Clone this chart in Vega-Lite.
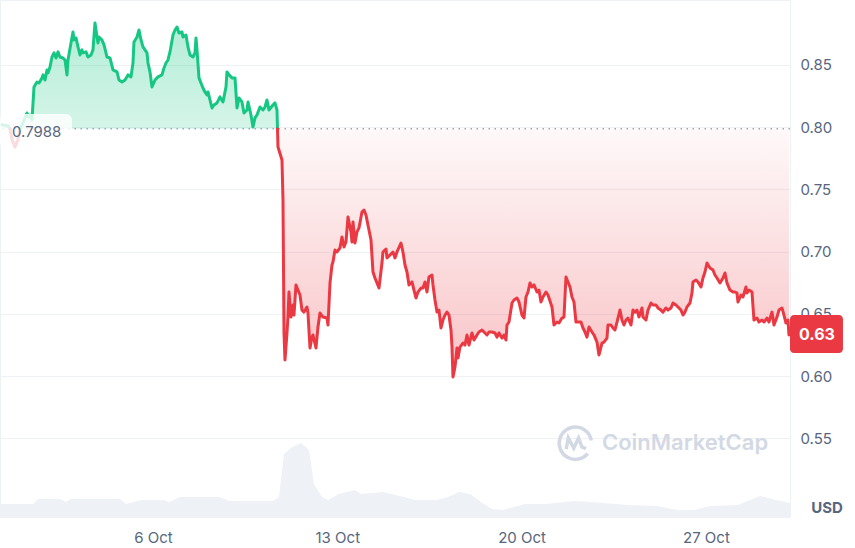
{
  "$schema": "https://vega.github.io/schema/vega-lite/v6.json",
  "width": 790,
  "height": 517,
  "autosize": {"type": "none"},
  "padding": {"left": 0, "top": 0, "right": 65, "bottom": 31},
  "background": "#ffffff",
  "config": {
    "view": {"stroke": "#eff2f5", "strokeWidth": 1},
    "font": "Inter",
    "axis": {"title": null, "labelFont": "Inter", "labelFontSize": 15, "labelColor": "#58667e", "domain": false, "ticks": false}
  },
  "datasets": {
    "price": [
      {"t": "2024-09-30T06:23", "p": 0.802, "s": "a"},
      {"t": "2024-09-30T11:51", "p": 0.801, "s": "a"},
      {"t": "2024-09-30T13:40", "p": 0.7988, "s": "a"},
      {"t": "2024-09-30T13:40", "p": 0.7988, "s": "b"},
      {"t": "2024-09-30T15:30", "p": 0.79, "s": "b"},
      {"t": "2024-09-30T18:14", "p": 0.784, "s": "b"},
      {"t": "2024-09-30T20:58", "p": 0.79, "s": "b"},
      {"t": "2024-09-30T22:47", "p": 0.7988, "s": "b"},
      {"t": "2024-09-30T22:47", "p": 0.7988, "s": "c"},
      {"t": "2024-10-01T00:37", "p": 0.8018, "s": "c"},
      {"t": "2024-10-01T05:10", "p": 0.8114, "s": "c"},
      {"t": "2024-10-01T06:05", "p": 0.8082, "s": "c"},
      {"t": "2024-10-01T07:55", "p": 0.8098, "s": "c"},
      {"t": "2024-10-01T09:44", "p": 0.8058, "s": "c"},
      {"t": "2024-10-01T11:33", "p": 0.8323, "s": "c"},
      {"t": "2024-10-01T14:17", "p": 0.8363, "s": "c"},
      {"t": "2024-10-01T16:07", "p": 0.8355, "s": "c"},
      {"t": "2024-10-01T18:50", "p": 0.8396, "s": "c"},
      {"t": "2024-10-01T19:45", "p": 0.842, "s": "c"},
      {"t": "2024-10-01T21:35", "p": 0.8379, "s": "c"},
      {"t": "2024-10-01T23:24", "p": 0.846, "s": "c"},
      {"t": "2024-10-02T00:19", "p": 0.8436, "s": "c"},
      {"t": "2024-10-02T02:08", "p": 0.8484, "s": "c"},
      {"t": "2024-10-02T03:58", "p": 0.8564, "s": "c"},
      {"t": "2024-10-02T05:47", "p": 0.8597, "s": "c"},
      {"t": "2024-10-02T07:36", "p": 0.8556, "s": "c"},
      {"t": "2024-10-02T09:26", "p": 0.8605, "s": "c"},
      {"t": "2024-10-02T11:15", "p": 0.8564, "s": "c"},
      {"t": "2024-10-02T13:59", "p": 0.8556, "s": "c"},
      {"t": "2024-10-02T15:49", "p": 0.854, "s": "c"},
      {"t": "2024-10-02T17:38", "p": 0.842, "s": "c"},
      {"t": "2024-10-02T18:32", "p": 0.854, "s": "c"},
      {"t": "2024-10-02T21:17", "p": 0.8677, "s": "c"},
      {"t": "2024-10-02T23:06", "p": 0.8765, "s": "c"},
      {"t": "2024-10-03T00:01", "p": 0.8701, "s": "c"},
      {"t": "2024-10-03T01:50", "p": 0.8717, "s": "c"},
      {"t": "2024-10-03T03:40", "p": 0.8645, "s": "c"},
      {"t": "2024-10-03T05:29", "p": 0.858, "s": "c"},
      {"t": "2024-10-03T07:18", "p": 0.8621, "s": "c"},
      {"t": "2024-10-03T08:13", "p": 0.8597, "s": "c"},
      {"t": "2024-10-03T10:57", "p": 0.8605, "s": "c"},
      {"t": "2024-10-03T12:46", "p": 0.8564, "s": "c"},
      {"t": "2024-10-03T15:31", "p": 0.858, "s": "c"},
      {"t": "2024-10-03T17:20", "p": 0.8621, "s": "c"},
      {"t": "2024-10-03T19:09", "p": 0.8838, "s": "c"},
      {"t": "2024-10-03T20:59", "p": 0.8725, "s": "c"},
      {"t": "2024-10-03T21:53", "p": 0.8677, "s": "c"},
      {"t": "2024-10-03T22:48", "p": 0.8725, "s": "c"},
      {"t": "2024-10-04T01:32", "p": 0.8701, "s": "c"},
      {"t": "2024-10-04T03:22", "p": 0.8661, "s": "c"},
      {"t": "2024-10-04T06:05", "p": 0.8564, "s": "c"},
      {"t": "2024-10-04T08:50", "p": 0.8556, "s": "c"},
      {"t": "2024-10-04T11:34", "p": 0.846, "s": "c"},
      {"t": "2024-10-04T15:13", "p": 0.8444, "s": "c"},
      {"t": "2024-10-04T17:02", "p": 0.8379, "s": "c"},
      {"t": "2024-10-04T19:46", "p": 0.8363, "s": "c"},
      {"t": "2024-10-04T22:30", "p": 0.8379, "s": "c"},
      {"t": "2024-10-05T01:14", "p": 0.842, "s": "c"},
      {"t": "2024-10-05T03:58", "p": 0.8404, "s": "c"},
      {"t": "2024-10-05T05:47", "p": 0.8516, "s": "c"},
      {"t": "2024-10-05T06:42", "p": 0.8685, "s": "c"},
      {"t": "2024-10-05T09:26", "p": 0.8725, "s": "c"},
      {"t": "2024-10-05T11:16", "p": 0.8781, "s": "c"},
      {"t": "2024-10-05T13:05", "p": 0.8701, "s": "c"},
      {"t": "2024-10-05T14:54", "p": 0.8645, "s": "c"},
      {"t": "2024-10-05T18:33", "p": 0.8597, "s": "c"},
      {"t": "2024-10-05T19:28", "p": 0.8516, "s": "c"},
      {"t": "2024-10-05T21:17", "p": 0.8444, "s": "c"},
      {"t": "2024-10-05T23:07", "p": 0.8323, "s": "c"},
      {"t": "2024-10-06T01:50", "p": 0.8379, "s": "c"},
      {"t": "2024-10-06T04:35", "p": 0.8404, "s": "c"},
      {"t": "2024-10-06T08:13", "p": 0.842, "s": "c"},
      {"t": "2024-10-06T10:03", "p": 0.8476, "s": "c"},
      {"t": "2024-10-06T11:52", "p": 0.8516, "s": "c"},
      {"t": "2024-10-06T13:41", "p": 0.854, "s": "c"},
      {"t": "2024-10-06T15:31", "p": 0.8605, "s": "c"},
      {"t": "2024-10-06T18:15", "p": 0.8741, "s": "c"},
      {"t": "2024-10-06T20:04", "p": 0.8781, "s": "c"},
      {"t": "2024-10-06T21:54", "p": 0.8805, "s": "c"},
      {"t": "2024-10-06T23:43", "p": 0.8757, "s": "c"},
      {"t": "2024-10-07T02:27", "p": 0.8765, "s": "c"},
      {"t": "2024-10-07T03:22", "p": 0.8725, "s": "c"},
      {"t": "2024-10-07T06:06", "p": 0.8741, "s": "c"},
      {"t": "2024-10-07T07:55", "p": 0.8645, "s": "c"},
      {"t": "2024-10-07T09:45", "p": 0.858, "s": "c"},
      {"t": "2024-10-07T12:29", "p": 0.8564, "s": "c"},
      {"t": "2024-10-07T14:18", "p": 0.8597, "s": "c"},
      {"t": "2024-10-07T15:13", "p": 0.8717, "s": "c"},
      {"t": "2024-10-07T16:08", "p": 0.8621, "s": "c"},
      {"t": "2024-10-07T17:57", "p": 0.8396, "s": "c"},
      {"t": "2024-10-07T19:46", "p": 0.8355, "s": "c"},
      {"t": "2024-10-07T21:35", "p": 0.8315, "s": "c"},
      {"t": "2024-10-07T23:25", "p": 0.8283, "s": "c"},
      {"t": "2024-10-08T01:14", "p": 0.8259, "s": "c"},
      {"t": "2024-10-08T02:09", "p": 0.8283, "s": "c"},
      {"t": "2024-10-08T03:59", "p": 0.8219, "s": "c"},
      {"t": "2024-10-08T05:48", "p": 0.8154, "s": "c"},
      {"t": "2024-10-08T07:37", "p": 0.8178, "s": "c"},
      {"t": "2024-10-08T10:22", "p": 0.8195, "s": "c"},
      {"t": "2024-10-08T13:05", "p": 0.8243, "s": "c"},
      {"t": "2024-10-08T15:49", "p": 0.8203, "s": "c"},
      {"t": "2024-10-08T18:34", "p": 0.8323, "s": "c"},
      {"t": "2024-10-08T19:28", "p": 0.8444, "s": "c"},
      {"t": "2024-10-08T21:17", "p": 0.842, "s": "c"},
      {"t": "2024-10-09T00:02", "p": 0.8396, "s": "c"},
      {"t": "2024-10-09T02:46", "p": 0.8396, "s": "c"},
      {"t": "2024-10-09T04:35", "p": 0.8154, "s": "c"},
      {"t": "2024-10-09T06:25", "p": 0.8235, "s": "c"},
      {"t": "2024-10-09T09:08", "p": 0.8203, "s": "c"},
      {"t": "2024-10-09T10:58", "p": 0.8114, "s": "c"},
      {"t": "2024-10-09T13:42", "p": 0.8138, "s": "c"},
      {"t": "2024-10-09T14:37", "p": 0.8203, "s": "c"},
      {"t": "2024-10-09T17:21", "p": 0.8098, "s": "c"},
      {"t": "2024-10-09T19:10", "p": 0.8002, "s": "c"},
      {"t": "2024-10-09T20:59", "p": 0.8074, "s": "c"},
      {"t": "2024-10-09T22:49", "p": 0.8098, "s": "c"},
      {"t": "2024-10-10T01:33", "p": 0.8162, "s": "c"},
      {"t": "2024-10-10T04:17", "p": 0.8138, "s": "c"},
      {"t": "2024-10-10T06:07", "p": 0.8162, "s": "c"},
      {"t": "2024-10-10T07:56", "p": 0.8219, "s": "c"},
      {"t": "2024-10-10T09:45", "p": 0.8138, "s": "c"},
      {"t": "2024-10-10T13:24", "p": 0.8178, "s": "c"},
      {"t": "2024-10-10T15:13", "p": 0.8195, "s": "c"},
      {"t": "2024-10-10T17:03", "p": 0.8138, "s": "c"},
      {"t": "2024-10-10T17:30", "p": 0.7988, "s": "c"},
      {"t": "2024-10-10T17:30", "p": 0.7988, "s": "d"},
      {"t": "2024-10-10T17:58", "p": 0.7841, "s": "d"},
      {"t": "2024-10-10T21:36", "p": 0.7736, "s": "d"},
      {"t": "2024-10-10T22:31", "p": 0.7415, "s": "d"},
      {"t": "2024-10-10T23:26", "p": 0.6346, "s": "d"},
      {"t": "2024-10-11T00:20", "p": 0.6129, "s": "d"},
      {"t": "2024-10-11T02:10", "p": 0.6346, "s": "d"},
      {"t": "2024-10-11T03:04", "p": 0.6474, "s": "d"},
      {"t": "2024-10-11T03:59", "p": 0.6675, "s": "d"},
      {"t": "2024-10-11T05:49", "p": 0.6474, "s": "d"},
      {"t": "2024-10-11T07:38", "p": 0.6571, "s": "d"},
      {"t": "2024-10-11T08:32", "p": 0.649, "s": "d"},
      {"t": "2024-10-11T10:22", "p": 0.6732, "s": "d"},
      {"t": "2024-10-11T12:11", "p": 0.6691, "s": "d"},
      {"t": "2024-10-11T14:01", "p": 0.6651, "s": "d"},
      {"t": "2024-10-11T15:50", "p": 0.653, "s": "d"},
      {"t": "2024-10-11T17:40", "p": 0.6514, "s": "d"},
      {"t": "2024-10-11T20:23", "p": 0.6555, "s": "d"},
      {"t": "2024-10-11T21:18", "p": 0.6506, "s": "d"},
      {"t": "2024-10-11T23:08", "p": 0.6225, "s": "d"},
      {"t": "2024-10-12T00:57", "p": 0.6313, "s": "d"},
      {"t": "2024-10-12T01:52", "p": 0.633, "s": "d"},
      {"t": "2024-10-12T04:35", "p": 0.6225, "s": "d"},
      {"t": "2024-10-12T06:25", "p": 0.6394, "s": "d"},
      {"t": "2024-10-12T08:14", "p": 0.6506, "s": "d"},
      {"t": "2024-10-12T10:58", "p": 0.6474, "s": "d"},
      {"t": "2024-10-12T14:37", "p": 0.6466, "s": "d"},
      {"t": "2024-10-12T15:32", "p": 0.641, "s": "d"},
      {"t": "2024-10-12T17:22", "p": 0.6748, "s": "d"},
      {"t": "2024-10-12T19:11", "p": 0.6892, "s": "d"},
      {"t": "2024-10-12T20:05", "p": 0.6917, "s": "d"},
      {"t": "2024-10-12T21:55", "p": 0.7013, "s": "d"},
      {"t": "2024-10-12T23:44", "p": 0.6997, "s": "d"},
      {"t": "2024-10-13T02:28", "p": 0.7029, "s": "d"},
      {"t": "2024-10-13T04:17", "p": 0.7117, "s": "d"},
      {"t": "2024-10-13T06:07", "p": 0.7037, "s": "d"},
      {"t": "2024-10-13T07:56", "p": 0.7077, "s": "d"},
      {"t": "2024-10-13T09:46", "p": 0.7278, "s": "d"},
      {"t": "2024-10-13T12:30", "p": 0.7158, "s": "d"},
      {"t": "2024-10-13T13:25", "p": 0.7077, "s": "d"},
      {"t": "2024-10-13T14:19", "p": 0.7238, "s": "d"},
      {"t": "2024-10-13T16:08", "p": 0.7069, "s": "d"},
      {"t": "2024-10-13T17:58", "p": 0.7158, "s": "d"},
      {"t": "2024-10-13T19:47", "p": 0.719, "s": "d"},
      {"t": "2024-10-13T22:31", "p": 0.7318, "s": "d"},
      {"t": "2024-10-14T00:21", "p": 0.7334, "s": "d"},
      {"t": "2024-10-14T02:10", "p": 0.7294, "s": "d"},
      {"t": "2024-10-14T03:59", "p": 0.7214, "s": "d"},
      {"t": "2024-10-14T06:44", "p": 0.7093, "s": "d"},
      {"t": "2024-10-14T08:33", "p": 0.6836, "s": "d"},
      {"t": "2024-10-14T10:22", "p": 0.6788, "s": "d"},
      {"t": "2024-10-14T12:12", "p": 0.6748, "s": "d"},
      {"t": "2024-10-14T14:01", "p": 0.6707, "s": "d"},
      {"t": "2024-10-14T16:45", "p": 0.6908, "s": "d"},
      {"t": "2024-10-14T17:40", "p": 0.6997, "s": "d"},
      {"t": "2024-10-14T20:24", "p": 0.7021, "s": "d"},
      {"t": "2024-10-14T21:19", "p": 0.6949, "s": "d"},
      {"t": "2024-10-15T00:03", "p": 0.6973, "s": "d"},
      {"t": "2024-10-15T02:47", "p": 0.6997, "s": "d"},
      {"t": "2024-10-15T04:36", "p": 0.6949, "s": "d"},
      {"t": "2024-10-15T06:26", "p": 0.6997, "s": "d"},
      {"t": "2024-10-15T10:04", "p": 0.7069, "s": "d"},
      {"t": "2024-10-15T11:53", "p": 0.6997, "s": "d"},
      {"t": "2024-10-15T13:43", "p": 0.6892, "s": "d"},
      {"t": "2024-10-15T15:32", "p": 0.6836, "s": "d"},
      {"t": "2024-10-15T17:22", "p": 0.6732, "s": "d"},
      {"t": "2024-10-15T20:06", "p": 0.6756, "s": "d"},
      {"t": "2024-10-15T21:55", "p": 0.6691, "s": "d"},
      {"t": "2024-10-15T23:44", "p": 0.6627, "s": "d"},
      {"t": "2024-10-16T01:34", "p": 0.6675, "s": "d"},
      {"t": "2024-10-16T04:18", "p": 0.6707, "s": "d"},
      {"t": "2024-10-16T06:07", "p": 0.6707, "s": "d"},
      {"t": "2024-10-16T07:57", "p": 0.6756, "s": "d"},
      {"t": "2024-10-16T09:46", "p": 0.6675, "s": "d"},
      {"t": "2024-10-16T11:35", "p": 0.6796, "s": "d"},
      {"t": "2024-10-16T14:20", "p": 0.6812, "s": "d"},
      {"t": "2024-10-16T15:14", "p": 0.6732, "s": "d"},
      {"t": "2024-10-16T17:04", "p": 0.6611, "s": "d"},
      {"t": "2024-10-16T18:53", "p": 0.6514, "s": "d"},
      {"t": "2024-10-16T20:43", "p": 0.653, "s": "d"},
      {"t": "2024-10-16T22:32", "p": 0.6386, "s": "d"},
      {"t": "2024-10-17T00:21", "p": 0.645, "s": "d"},
      {"t": "2024-10-17T02:11", "p": 0.649, "s": "d"},
      {"t": "2024-10-17T04:00", "p": 0.6514, "s": "d"},
      {"t": "2024-10-17T05:49", "p": 0.649, "s": "d"},
      {"t": "2024-10-17T07:39", "p": 0.637, "s": "d"},
      {"t": "2024-10-17T08:34", "p": 0.6233, "s": "d"},
      {"t": "2024-10-17T09:28", "p": 0.5992, "s": "d"},
      {"t": "2024-10-17T11:17", "p": 0.6072, "s": "d"},
      {"t": "2024-10-17T13:07", "p": 0.6225, "s": "d"},
      {"t": "2024-10-17T14:02", "p": 0.6145, "s": "d"},
      {"t": "2024-10-17T15:51", "p": 0.6233, "s": "d"},
      {"t": "2024-10-17T18:35", "p": 0.6265, "s": "d"},
      {"t": "2024-10-17T20:25", "p": 0.6249, "s": "d"},
      {"t": "2024-10-17T22:14", "p": 0.633, "s": "d"},
      {"t": "2024-10-18T00:03", "p": 0.6249, "s": "d"},
      {"t": "2024-10-18T02:47", "p": 0.6346, "s": "d"},
      {"t": "2024-10-18T04:37", "p": 0.6289, "s": "d"},
      {"t": "2024-10-18T07:21", "p": 0.633, "s": "d"},
      {"t": "2024-10-18T09:10", "p": 0.6354, "s": "d"},
      {"t": "2024-10-18T11:54", "p": 0.637, "s": "d"},
      {"t": "2024-10-18T13:44", "p": 0.6354, "s": "d"},
      {"t": "2024-10-18T16:28", "p": 0.633, "s": "d"},
      {"t": "2024-10-18T18:17", "p": 0.6354, "s": "d"},
      {"t": "2024-10-18T21:01", "p": 0.6354, "s": "d"},
      {"t": "2024-10-18T23:45", "p": 0.6346, "s": "d"},
      {"t": "2024-10-19T01:35", "p": 0.6313, "s": "d"},
      {"t": "2024-10-19T03:24", "p": 0.6346, "s": "d"},
      {"t": "2024-10-19T06:08", "p": 0.6305, "s": "d"},
      {"t": "2024-10-19T07:58", "p": 0.633, "s": "d"},
      {"t": "2024-10-19T09:47", "p": 0.6289, "s": "d"},
      {"t": "2024-10-19T10:41", "p": 0.641, "s": "d"},
      {"t": "2024-10-19T12:31", "p": 0.6434, "s": "d"},
      {"t": "2024-10-19T15:15", "p": 0.6587, "s": "d"},
      {"t": "2024-10-19T17:04", "p": 0.6611, "s": "d"},
      {"t": "2024-10-19T19:49", "p": 0.6627, "s": "d"},
      {"t": "2024-10-19T21:38", "p": 0.6595, "s": "d"},
      {"t": "2024-10-20T00:22", "p": 0.649, "s": "d"},
      {"t": "2024-10-20T02:11", "p": 0.6466, "s": "d"},
      {"t": "2024-10-20T04:01", "p": 0.6635, "s": "d"},
      {"t": "2024-10-20T05:50", "p": 0.6675, "s": "d"},
      {"t": "2024-10-20T07:40", "p": 0.6748, "s": "d"},
      {"t": "2024-10-20T09:29", "p": 0.6715, "s": "d"},
      {"t": "2024-10-20T11:18", "p": 0.6732, "s": "d"},
      {"t": "2024-10-20T14:02", "p": 0.6675, "s": "d"},
      {"t": "2024-10-20T15:52", "p": 0.6691, "s": "d"},
      {"t": "2024-10-20T17:41", "p": 0.6595, "s": "d"},
      {"t": "2024-10-20T19:30", "p": 0.6635, "s": "d"},
      {"t": "2024-10-20T22:14", "p": 0.6675, "s": "d"},
      {"t": "2024-10-21T00:04", "p": 0.6651, "s": "d"},
      {"t": "2024-10-21T03:43", "p": 0.6555, "s": "d"},
      {"t": "2024-10-21T05:32", "p": 0.641, "s": "d"},
      {"t": "2024-10-21T08:16", "p": 0.6434, "s": "d"},
      {"t": "2024-10-21T10:05", "p": 0.6426, "s": "d"},
      {"t": "2024-10-21T12:49", "p": 0.6466, "s": "d"},
      {"t": "2024-10-21T14:39", "p": 0.6474, "s": "d"},
      {"t": "2024-10-21T16:28", "p": 0.6796, "s": "d"},
      {"t": "2024-10-21T18:17", "p": 0.6756, "s": "d"},
      {"t": "2024-10-21T20:07", "p": 0.6715, "s": "d"},
      {"t": "2024-10-21T21:56", "p": 0.6635, "s": "d"},
      {"t": "2024-10-21T23:46", "p": 0.6595, "s": "d"},
      {"t": "2024-10-22T01:35", "p": 0.6434, "s": "d"},
      {"t": "2024-10-22T03:25", "p": 0.6434, "s": "d"},
      {"t": "2024-10-22T06:08", "p": 0.6434, "s": "d"},
      {"t": "2024-10-22T07:58", "p": 0.6386, "s": "d"},
      {"t": "2024-10-22T09:47", "p": 0.6354, "s": "d"},
      {"t": "2024-10-22T11:37", "p": 0.6313, "s": "d"},
      {"t": "2024-10-22T13:26", "p": 0.6394, "s": "d"},
      {"t": "2024-10-22T16:10", "p": 0.6354, "s": "d"},
      {"t": "2024-10-22T17:59", "p": 0.633, "s": "d"},
      {"t": "2024-10-22T20:44", "p": 0.6273, "s": "d"},
      {"t": "2024-10-22T22:33", "p": 0.6169, "s": "d"},
      {"t": "2024-10-23T01:17", "p": 0.6265, "s": "d"},
      {"t": "2024-10-23T03:07", "p": 0.6273, "s": "d"},
      {"t": "2024-10-23T05:50", "p": 0.6305, "s": "d"},
      {"t": "2024-10-23T06:45", "p": 0.641, "s": "d"},
      {"t": "2024-10-23T09:29", "p": 0.641, "s": "d"},
      {"t": "2024-10-23T11:19", "p": 0.6386, "s": "d"},
      {"t": "2024-10-23T13:08", "p": 0.637, "s": "d"},
      {"t": "2024-10-23T14:58", "p": 0.6434, "s": "d"},
      {"t": "2024-10-23T17:41", "p": 0.653, "s": "d"},
      {"t": "2024-10-23T19:31", "p": 0.645, "s": "d"},
      {"t": "2024-10-23T21:20", "p": 0.641, "s": "d"},
      {"t": "2024-10-23T23:10", "p": 0.645, "s": "d"},
      {"t": "2024-10-24T00:59", "p": 0.6466, "s": "d"},
      {"t": "2024-10-24T03:43", "p": 0.641, "s": "d"},
      {"t": "2024-10-24T05:32", "p": 0.653, "s": "d"},
      {"t": "2024-10-24T07:22", "p": 0.6514, "s": "d"},
      {"t": "2024-10-24T09:11", "p": 0.653, "s": "d"},
      {"t": "2024-10-24T11:01", "p": 0.6474, "s": "d"},
      {"t": "2024-10-24T13:44", "p": 0.6547, "s": "d"},
      {"t": "2024-10-24T14:39", "p": 0.6474, "s": "d"},
      {"t": "2024-10-24T17:23", "p": 0.645, "s": "d"},
      {"t": "2024-10-24T19:13", "p": 0.653, "s": "d"},
      {"t": "2024-10-24T21:57", "p": 0.6587, "s": "d"},
      {"t": "2024-10-24T23:46", "p": 0.6571, "s": "d"},
      {"t": "2024-10-25T02:30", "p": 0.6571, "s": "d"},
      {"t": "2024-10-25T04:20", "p": 0.6547, "s": "d"},
      {"t": "2024-10-25T07:04", "p": 0.653, "s": "d"},
      {"t": "2024-10-25T08:53", "p": 0.6514, "s": "d"},
      {"t": "2024-10-25T11:37", "p": 0.6547, "s": "d"},
      {"t": "2024-10-25T13:26", "p": 0.653, "s": "d"},
      {"t": "2024-10-25T16:11", "p": 0.6547, "s": "d"},
      {"t": "2024-10-25T18:00", "p": 0.6587, "s": "d"},
      {"t": "2024-10-25T20:44", "p": 0.6571, "s": "d"},
      {"t": "2024-10-25T22:34", "p": 0.6555, "s": "d"},
      {"t": "2024-10-26T01:17", "p": 0.653, "s": "d"},
      {"t": "2024-10-26T03:07", "p": 0.649, "s": "d"},
      {"t": "2024-10-26T04:56", "p": 0.6514, "s": "d"},
      {"t": "2024-10-26T06:46", "p": 0.6555, "s": "d"},
      {"t": "2024-10-26T09:30", "p": 0.6587, "s": "d"},
      {"t": "2024-10-26T11:19", "p": 0.6667, "s": "d"},
      {"t": "2024-10-26T12:14", "p": 0.6756, "s": "d"},
      {"t": "2024-10-26T14:58", "p": 0.6772, "s": "d"},
      {"t": "2024-10-26T16:47", "p": 0.6756, "s": "d"},
      {"t": "2024-10-26T19:31", "p": 0.6715, "s": "d"},
      {"t": "2024-10-26T21:20", "p": 0.6788, "s": "d"},
      {"t": "2024-10-26T23:10", "p": 0.6836, "s": "d"},
      {"t": "2024-10-27T00:59", "p": 0.6908, "s": "d"},
      {"t": "2024-10-27T03:44", "p": 0.6868, "s": "d"},
      {"t": "2024-10-27T06:28", "p": 0.6852, "s": "d"},
      {"t": "2024-10-27T08:17", "p": 0.6812, "s": "d"},
      {"t": "2024-10-27T10:07", "p": 0.6788, "s": "d"},
      {"t": "2024-10-27T12:50", "p": 0.6748, "s": "d"},
      {"t": "2024-10-27T15:34", "p": 0.6788, "s": "d"},
      {"t": "2024-10-27T17:24", "p": 0.6828, "s": "d"},
      {"t": "2024-10-27T19:13", "p": 0.6748, "s": "d"},
      {"t": "2024-10-27T21:58", "p": 0.6691, "s": "d"},
      {"t": "2024-10-28T00:41", "p": 0.6675, "s": "d"},
      {"t": "2024-10-28T02:31", "p": 0.6675, "s": "d"},
      {"t": "2024-10-28T04:20", "p": 0.6667, "s": "d"},
      {"t": "2024-10-28T05:15", "p": 0.6595, "s": "d"},
      {"t": "2024-10-28T07:59", "p": 0.6651, "s": "d"},
      {"t": "2024-10-28T09:48", "p": 0.6635, "s": "d"},
      {"t": "2024-10-28T12:32", "p": 0.6715, "s": "d"},
      {"t": "2024-10-28T13:27", "p": 0.6667, "s": "d"},
      {"t": "2024-10-28T15:16", "p": 0.6691, "s": "d"},
      {"t": "2024-10-28T18:01", "p": 0.6675, "s": "d"},
      {"t": "2024-10-28T19:50", "p": 0.645, "s": "d"},
      {"t": "2024-10-28T22:34", "p": 0.6466, "s": "d"},
      {"t": "2024-10-29T00:23", "p": 0.6434, "s": "d"},
      {"t": "2024-10-29T03:07", "p": 0.645, "s": "d"},
      {"t": "2024-10-29T04:57", "p": 0.6434, "s": "d"},
      {"t": "2024-10-29T07:41", "p": 0.6466, "s": "d"},
      {"t": "2024-10-29T09:30", "p": 0.6434, "s": "d"},
      {"t": "2024-10-29T12:14", "p": 0.6514, "s": "d"},
      {"t": "2024-10-29T14:04", "p": 0.641, "s": "d"},
      {"t": "2024-10-29T16:48", "p": 0.6474, "s": "d"},
      {"t": "2024-10-29T18:37", "p": 0.653, "s": "d"},
      {"t": "2024-10-29T21:21", "p": 0.6547, "s": "d"},
      {"t": "2024-10-29T23:11", "p": 0.649, "s": "d"},
      {"t": "2024-10-30T01:00", "p": 0.6426, "s": "d"},
      {"t": "2024-10-30T02:49", "p": 0.645, "s": "d"},
      {"t": "2024-10-30T03:44", "p": 0.633, "s": "d"}
    ],
    "vol": [
      {"t": "2024-09-30T04:34", "v": 13},
      {"t": "2024-10-01T10:38", "v": 13},
      {"t": "2024-10-01T15:12", "v": 18},
      {"t": "2024-10-02T11:15", "v": 18},
      {"t": "2024-10-02T16:43", "v": 15},
      {"t": "2024-10-02T21:17", "v": 18},
      {"t": "2024-10-04T17:56", "v": 18},
      {"t": "2024-10-04T23:25", "v": 13},
      {"t": "2024-10-05T13:59", "v": 17},
      {"t": "2024-10-06T10:03", "v": 17},
      {"t": "2024-10-06T14:36", "v": 15},
      {"t": "2024-10-07T00:38", "v": 20},
      {"t": "2024-10-08T12:11", "v": 20},
      {"t": "2024-10-08T22:12", "v": 16},
      {"t": "2024-10-10T13:24", "v": 16},
      {"t": "2024-10-10T18:52", "v": 20},
      {"t": "2024-10-10T23:26", "v": 63},
      {"t": "2024-10-11T06:43", "v": 70},
      {"t": "2024-10-11T14:55", "v": 74},
      {"t": "2024-10-11T22:13", "v": 67},
      {"t": "2024-10-12T02:46", "v": 33},
      {"t": "2024-10-12T10:04", "v": 20},
      {"t": "2024-10-12T15:32", "v": 17},
      {"t": "2024-10-13T01:34", "v": 23},
      {"t": "2024-10-13T16:08", "v": 27},
      {"t": "2024-10-13T21:37", "v": 23},
      {"t": "2024-10-14T17:40", "v": 25},
      {"t": "2024-10-15T12:48", "v": 20},
      {"t": "2024-10-15T22:50", "v": 17},
      {"t": "2024-10-16T18:53", "v": 17},
      {"t": "2024-10-17T04:55", "v": 20},
      {"t": "2024-10-17T14:56", "v": 25},
      {"t": "2024-10-18T00:58", "v": 23},
      {"t": "2024-10-18T10:59", "v": 15},
      {"t": "2024-10-18T21:01", "v": 8},
      {"t": "2024-10-19T07:03", "v": 7},
      {"t": "2024-10-20T03:06", "v": 13},
      {"t": "2024-10-20T22:14", "v": 13},
      {"t": "2024-10-21T23:46", "v": 16},
      {"t": "2024-10-22T14:21", "v": 15},
      {"t": "2024-10-24T00:59", "v": 12},
      {"t": "2024-10-25T02:31", "v": 11},
      {"t": "2024-10-25T22:34", "v": 7},
      {"t": "2024-10-26T13:08", "v": 7},
      {"t": "2024-10-27T03:44", "v": 11},
      {"t": "2024-10-28T05:15", "v": 12},
      {"t": "2024-10-29T01:18", "v": 21},
      {"t": "2024-10-29T15:53", "v": 17},
      {"t": "2024-10-30T04:38", "v": 14}
    ]
  },
  "resolve": {"scale": {"y": "independent"}},
  "layer": [
    {
      "data": {"name": "vol"},
      "mark": {"type": "area", "color": "#eef1f6", "line": false},
      "encoding": {
        "x": {
          "field": "t", "type": "temporal",
          "scale": {"domain": [{"year": 2024, "month": 9, "date": 30, "hours": 4, "minutes": 34}, {"year": 2024, "month": 10, "date": 30, "hours": 4, "minutes": 40}]},
          "axis": {"values": [{"year": 2024, "month": 10, "date": 6}, {"year": 2024, "month": 10, "date": 13}, {"year": 2024, "month": 10, "date": 20}, {"year": 2024, "month": 10, "date": 27}], "format": "%-d %b", "labelPadding": 13, "grid": false, "labelFlush": false}
        },
        "y": {"field": "v", "type": "quantitative", "scale": {"domain": [0, 517]}, "axis": null}
      }
    },
    {
      "layer": [
        {
          "data": {"name": "price"},
          "transform": [{"filter": {"field": "s", "oneOf": ["b", "d"]}}],
          "mark": {"type": "area", "color": {"gradient": "linear", "x1": 0, "y1": 0, "x2": 0, "y2": 1, "stops": [{"offset": 0, "color": "rgba(234,57,67,0.03)"}, {"offset": 1, "color": "rgba(234,57,67,0.3)"}]}},
          "encoding": {
            "x": {"field": "t", "type": "temporal"},
            "y": {"field": "p", "type": "quantitative", "scale": {"domain": [0.4867, 0.9022], "nice": false, "zero": false},
                  "axis": {"orient": "right", "values": [0.55, 0.6, 0.65, 0.7, 0.75, 0.8, 0.85], "format": ".2f", "labelPadding": 10, "grid": true, "gridColor": "#eff2f5", "gridWidth": 1}},
            "y2": {"datum": 0.7988}
          }
        },
        {
          "data": {"name": "price"},
          "transform": [{"filter": {"field": "s", "oneOf": ["a", "c"]}}],
          "mark": {"type": "area", "color": {"gradient": "linear", "x1": 0, "y1": 0, "x2": 0, "y2": 1, "stops": [{"offset": 0, "color": "rgba(22,199,132,0.32)"}, {"offset": 1, "color": "rgba(22,199,132,0.18)"}]}},
          "encoding": {
            "x": {"field": "t", "type": "temporal"},
            "y": {"field": "p", "type": "quantitative", "scale": {"domain": [0.4867, 0.9022], "nice": false, "zero": false}},
            "y2": {"datum": 0.7988}
          }
        },
        {
          "data": {"values": [{}]},
          "mark": {"type": "rule", "color": "#9ea6b5", "strokeDash": [1.5, 4.5], "strokeWidth": 1.5},
          "encoding": {"y": {"datum": 0.7988, "type": "quantitative", "scale": {"domain": [0.4867, 0.9022], "nice": false, "zero": false}}}
        },
        {
          "data": {"name": "price"},
          "mark": {"type": "line", "strokeWidth": 3, "strokeJoin": "round", "strokeCap": "round"},
          "encoding": {
            "x": {"field": "t", "type": "temporal"},
            "y": {"field": "p", "type": "quantitative", "scale": {"domain": [0.4867, 0.9022], "nice": false, "zero": false}},
            "color": {"field": "s", "type": "nominal", "scale": {"domain": ["a", "b", "c", "d"], "range": ["#16c784", "#ea3943", "#16c784", "#ea3943"]}, "legend": null}
          }
        },
        {
          "data": {"values": [{}]},
          "mark": {"type": "rect", "color": "#ffffff", "opacity": 0.82, "cornerRadius": 6},
          "encoding": {
            "x": {"datum": {"year": 2024, "month": 9, "date": 30, "hours": 4, "minutes": 34}, "type": "temporal"},
            "x2": {"datum": {"year": 2024, "month": 10, "date": 2, "hours": 22, "minutes": 11}},
            "y": {"datum": 0.8106, "type": "quantitative", "scale": {"domain": [0.4867, 0.9022], "nice": false, "zero": false}},
            "y2": {"datum": 0.7825}
          }
        },
        {
          "data": {"values": [{}]},
          "mark": {"type": "text", "text": "0.7988", "align": "left", "baseline": "middle", "fontSize": 15, "font": "Inter", "color": "#58667e"},
          "encoding": {
            "x": {"datum": {"year": 2024, "month": 9, "date": 30, "hours": 15, "minutes": 30}, "type": "temporal"},
            "y": {"datum": 0.7964, "type": "quantitative", "scale": {"domain": [0.4867, 0.9022], "nice": false, "zero": false}}
          }
        },
        {
          "data": {"values": [{}]},
          "mark": {"type": "point", "shape": "M0.72,0.62 A0.95,0.95 0 1 1 0.93,-0.15 M-0.55,0.35 L-0.42,-0.3 L-0.1,0.3 L0.18,-0.3 L0.38,0.22 L0.62,0.32", "filled": false, "stroke": "#d3d9e4", "strokeWidth": 3.5, "size": 1156, "opacity": 1},
          "encoding": {
            "x": {"datum": {"year": 2024, "month": 10, "date": 22, "hours": 1, "minutes": 7}, "type": "temporal"},
            "y": {"datum": 0.5461, "type": "quantitative", "scale": {"domain": [0.4867, 0.9022], "nice": false, "zero": false}}
          }
        },
        {
          "data": {"values": [{}]},
          "mark": {"type": "text", "text": "CoinMarketCap", "align": "center", "baseline": "middle", "fontSize": 22, "fontWeight": 600, "font": "Inter", "color": "#d3d9e4"},
          "encoding": {
            "x": {"datum": {"year": 2024, "month": 10, "date": 26, "hours": 5, "minutes": 0}, "type": "temporal"},
            "y": {"datum": 0.5461, "type": "quantitative", "scale": {"domain": [0.4867, 0.9022], "nice": false, "zero": false}}
          }
        },
        {
          "data": {"values": [{}]},
          "mark": {"type": "rect", "color": "#ea3943", "cornerRadius": 4, "clip": false},
          "encoding": {
            "x": {"datum": {"year": 2024, "month": 10, "date": 30, "hours": 4, "minutes": 40}, "type": "temporal"},
            "x2": {"datum": {"year": 2024, "month": 11, "date": 1, "hours": 4, "minutes": 57}},
            "y": {"datum": 0.649, "type": "quantitative", "scale": {"domain": [0.4867, 0.9022], "nice": false, "zero": false}},
            "y2": {"datum": 0.6185}
          }
        },
        {
          "data": {"values": [{}]},
          "mark": {"type": "text", "text": "0.63", "align": "center", "baseline": "middle", "fontSize": 16, "fontWeight": 700, "font": "Inter", "color": "#ffffff"},
          "encoding": {
            "x": {"datum": {"year": 2024, "month": 10, "date": 31, "hours": 5, "minutes": 16}, "type": "temporal"},
            "y": {"datum": 0.6333, "type": "quantitative", "scale": {"domain": [0.4867, 0.9022], "nice": false, "zero": false}}
          }
        },
        {
          "data": {"values": [{}]},
          "mark": {"type": "text", "text": "USD", "align": "center", "baseline": "middle", "fontSize": 15, "fontWeight": 700, "font": "Inter", "color": "#58667e"},
          "encoding": {
            "x": {"datum": {"year": 2024, "month": 10, "date": 31, "hours": 14, "minutes": 22}, "type": "temporal"},
            "y": {"datum": 0.4939, "type": "quantitative", "scale": {"domain": [0.4867, 0.9022], "nice": false, "zero": false}}
          }
        }
      ]
    }
  ]
}
